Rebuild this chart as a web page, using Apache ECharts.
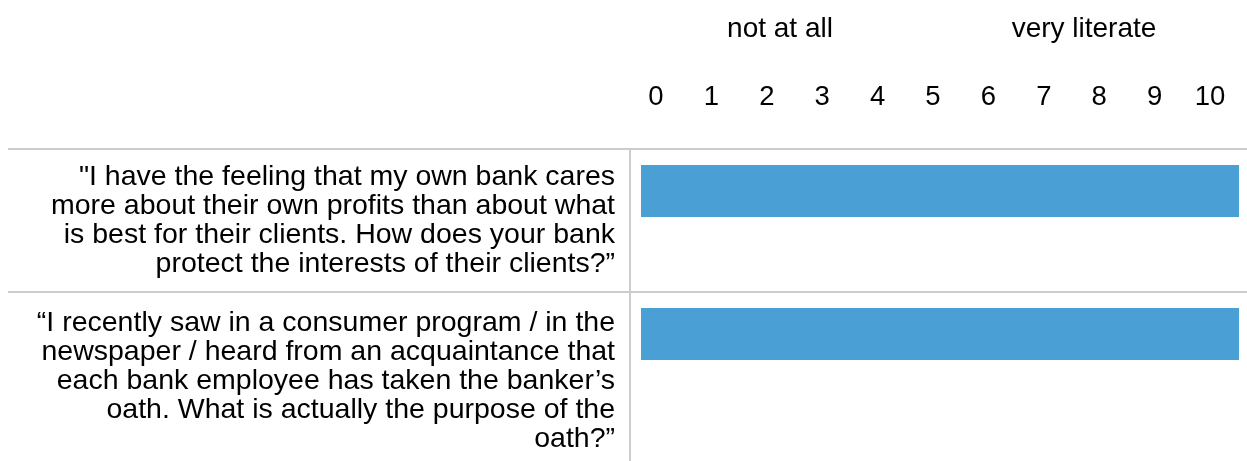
<!DOCTYPE html>
<html>
<head>
<meta charset="utf-8">
<script src="https://cdn.jsdelivr.net/npm/echarts@6/dist/echarts.min.js"></script>
<style>
html,body{margin:0;padding:0;background:#fff;}
#c{width:1247px;height:461px;}
</style>
</head>
<body>
<div id="c"></div>
<script>
// ---- data ----
var questions = [
  '"I have the feeling that my own bank cares\nmore about their own profits than about what\nis best for their clients. How does your bank\nprotect the interests of their clients?\u201d',
  '\u201cI recently saw in a consumer program / in the\nnewspaper / heard from an acquaintance that\neach bank employee has taken the banker\u2019s\noath. What is actually the purpose of the\noath?\u201d'
];
var barValues = [10, 10];
var scaleTicks = [0, 1, 2, 3, 4, 5, 6, 7, 8, 9, 10];
var scaleEnds = ['not at all', 'very literate'];

var FONT = '"Liberation Sans", Arial, sans-serif';
var FS = 28.5;

var chart = echarts.init(document.getElementById('c'), null, {renderer: 'canvas'});

var option = {
  backgroundColor: '#ffffff',
  animation: false,
  textStyle: {fontFamily: FONT},
  grid: [
    // scale header
    {left: 656, right: 37, top: 97, height: 10},
    // bars
    {left: 641, right: 8, top: 119.5, height: 286},
    // question labels
    {left: 630, right: 8, top: 89.5, height: 292}
  ],
  xAxis: [
    {
      gridIndex: 0, type: 'value', min: scaleTicks[0], max: scaleTicks[scaleTicks.length - 1], interval: 1,
      position: 'top',
      axisLine: {show: false}, axisTick: {show: false}, splitLine: {show: false},
      axisLabel: {
        margin: 0, verticalAlign: 'middle', color: '#000', fontSize: 27.5, fontFamily: FONT,
        showMinLabel: true, showMaxLabel: true
      }
    },
    {gridIndex: 1, type: 'value', min: 0, max: 10, show: false},
    {gridIndex: 2, type: 'value', min: 0, max: 10, show: false}
  ],
  yAxis: [
    {gridIndex: 0, type: 'value', show: false},
    {gridIndex: 1, type: 'category', data: questions, inverse: true, show: false},
    {
      gridIndex: 2, type: 'category', data: questions, inverse: true,
      axisLine: {show: false}, axisTick: {show: false}, splitLine: {show: false},
      axisLabel: {
        margin: 15, align: 'right', verticalAlign: 'top', color: '#000',
        fontSize: FS, lineHeight: 29, fontFamily: FONT
      }
    }
  ],
  series: [
    {
      type: 'bar', xAxisIndex: 1, yAxisIndex: 1, data: barValues,
      barWidth: 52, itemStyle: {color: '#4a9fd4'}, silent: true
    }
  ],
  graphic: [
    {type: 'line', shape: {x1: 8, y1: 149, x2: 1247, y2: 149}, style: {stroke: '#cccccc', lineWidth: 2}, silent: true},
    {type: 'line', shape: {x1: 8, y1: 292, x2: 1247, y2: 292}, style: {stroke: '#cccccc', lineWidth: 2}, silent: true},
    {type: 'line', shape: {x1: 630, y1: 149, x2: 630, y2: 461}, style: {stroke: '#cccccc', lineWidth: 2}, silent: true},
    {type: 'text', x: 780, y: 29, style: {text: scaleEnds[0], font: '28px ' + FONT, fill: '#000', textAlign: 'center', textVerticalAlign: 'middle'}},
    {type: 'text', x: 1084, y: 29, style: {text: scaleEnds[1], font: '28px ' + FONT, fill: '#000', textAlign: 'center', textVerticalAlign: 'middle'}}
  ]
};
chart.setOption(option);
</script>
</body>
</html>
